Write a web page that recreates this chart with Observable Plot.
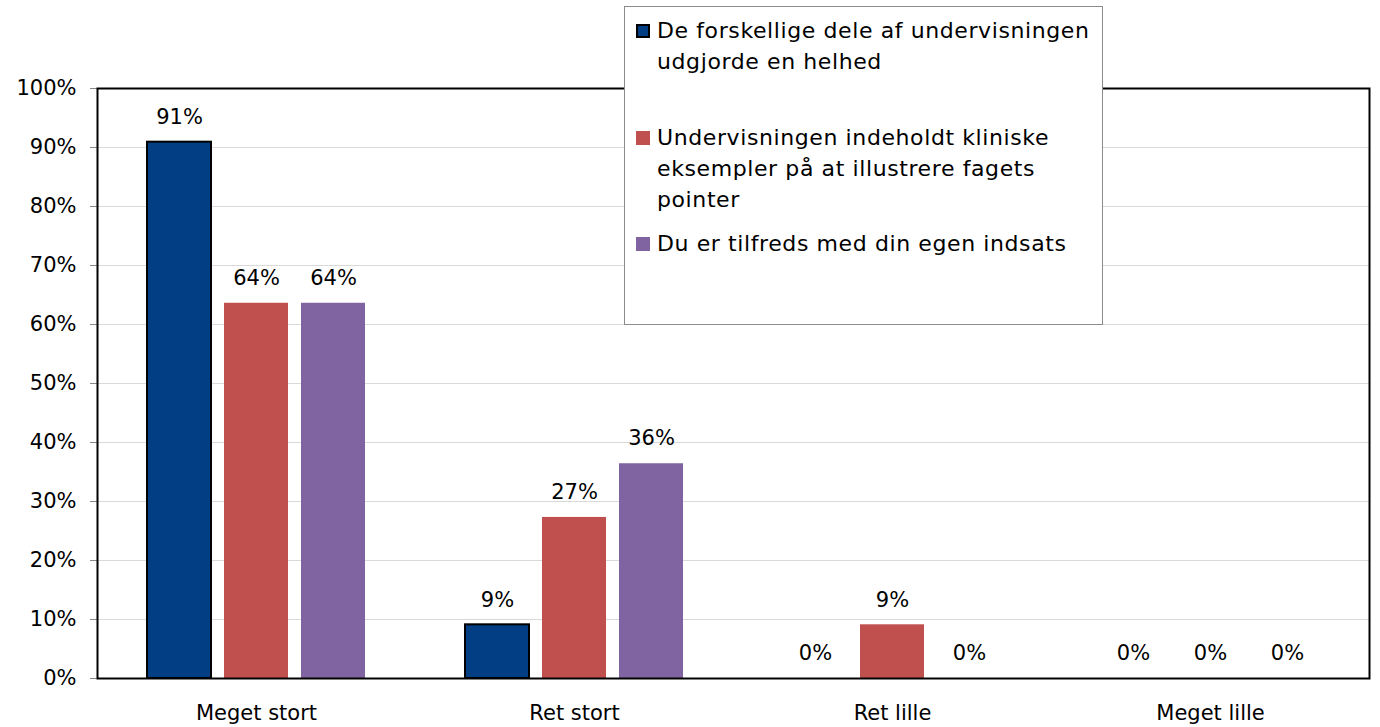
<!DOCTYPE html>
<html>
<head>
<meta charset="utf-8">
<script src="https://cdn.jsdelivr.net/npm/d3@7"></script>
<script src="https://cdn.jsdelivr.net/npm/@observablehq/plot@0.6"></script>
<style>
  html, body { margin: 0; padding: 0; background: #fff; }
  #wrap { position: relative; width: 1380px; height: 727px; font-family: "DejaVu Sans", sans-serif; }
  #legend { position: absolute; left: 624px; top: 6px; width: 479px; height: 319px; background: #fff; border: 1px solid #8c8c8c; box-sizing: border-box; }
  .item { position: absolute; left: 11px; font-size: 22px; letter-spacing: 0.6px; line-height: 31px; color: #000; white-space: pre; }
  .sw { position: absolute; left: 0; top: 9px; width: 14px; height: 14px; box-sizing: border-box; }
  .lbl { position: absolute; left: 21px; top: 0; }
</style>
</head>
<body>
<div id="wrap"></div>
<script>
const categories = ["Meget stort", "Ret stort", "Ret lille", "Meget lille"];
const seriesNames = [
  "De forskellige dele af undervisningen udgjorde en helhed",
  "Undervisningen indeholdt kliniske eksempler på at illustrere fagets pointer",
  "Du er tilfreds med din egen indsats"
];
const legendLines = [
  ["De forskellige dele af undervisningen", "udgjorde en helhed"],
  ["Undervisningen indeholdt kliniske", "eksempler på at illustrere fagets", "pointer"],
  ["Du er tilfreds med din egen indsats"]
];
const helhed   = [90.9, 9.1, 0, 0];
const kliniske = [63.6, 27.3, 9.1, 0];
const indsats  = [63.6, 36.4, 0, 0];
const colors = ["#023E84", "#C0504D", "#8064A2"];
const yTicks = [0, 10, 20, 30, 40, 50, 60, 70, 80, 90, 100];

const seriesValues = [helhed, kliniske, indsats];
const rows = [];
categories.forEach((c, i) => {
  seriesNames.forEach((s, j) => rows.push({category: c, series: s, value: seriesValues[j][i], idx: j}));
});

const font = "DejaVu Sans, sans-serif";
const chart = Plot.plot({
  width: 1380,
  height: 727,
  marginLeft: 95,
  marginRight: 10,
  marginTop: 88,
  marginBottom: 49,
  style: {fontFamily: font, fontSize: "21px", color: "#000", background: "#fff", overflow: "visible"},
  fx: {domain: categories, padding: 0, label: null},
  x: {domain: seriesNames, paddingInner: 0.167, paddingOuter: 0.627, axis: null},
  y: {domain: [0, 100], label: null},
  color: {domain: seriesNames, range: colors},
  marks: [
    Plot.gridY(yTicks, {stroke: "#d9d9d9", strokeOpacity: 1, strokeWidth: 1}),
    Plot.barY(rows, {
      fx: "category", x: "series", y: "value", fill: "series",
      stroke: d => d.idx === 0 ? "#000" : "none", strokeWidth: 2
    }),
    Plot.text(rows, {
      fx: "category", x: "series", y: "value",
      text: d => Math.round(d.value) + "%", dy: -25, fill: "#000", fontSize: 21
    }),
    Plot.axisY(yTicks, {tickFormat: d => d + "%", tickSize: 7, tickPadding: 14, stroke: "#888", fill: "#000", fontSize: 21, label: null}),
    Plot.axisFx({anchor: "bottom", tickSize: 0, tickPadding: 27, fontSize: 21, label: null}),
    Plot.frame({stroke: "#000", strokeWidth: 2, facet: "super"})
  ]
});

const wrap = document.getElementById("wrap");
wrap.appendChild(chart);

const legend = document.createElement("div");
legend.id = "legend";
const tops = [7.5, 114.5, 220.5];
legendLines.forEach((lines, j) => {
  const it = document.createElement("div");
  it.className = "item";
  it.style.top = tops[j] + "px";
  const sw = document.createElement("div");
  sw.className = "sw";
  sw.style.background = colors[j];
  if (j === 0) sw.style.border = "2px solid #000";
  const lb = document.createElement("div");
  lb.className = "lbl";
  lb.textContent = lines.join("\n");
  it.appendChild(sw);
  it.appendChild(lb);
  legend.appendChild(it);
});
wrap.appendChild(legend);
</script>
</body>
</html>
